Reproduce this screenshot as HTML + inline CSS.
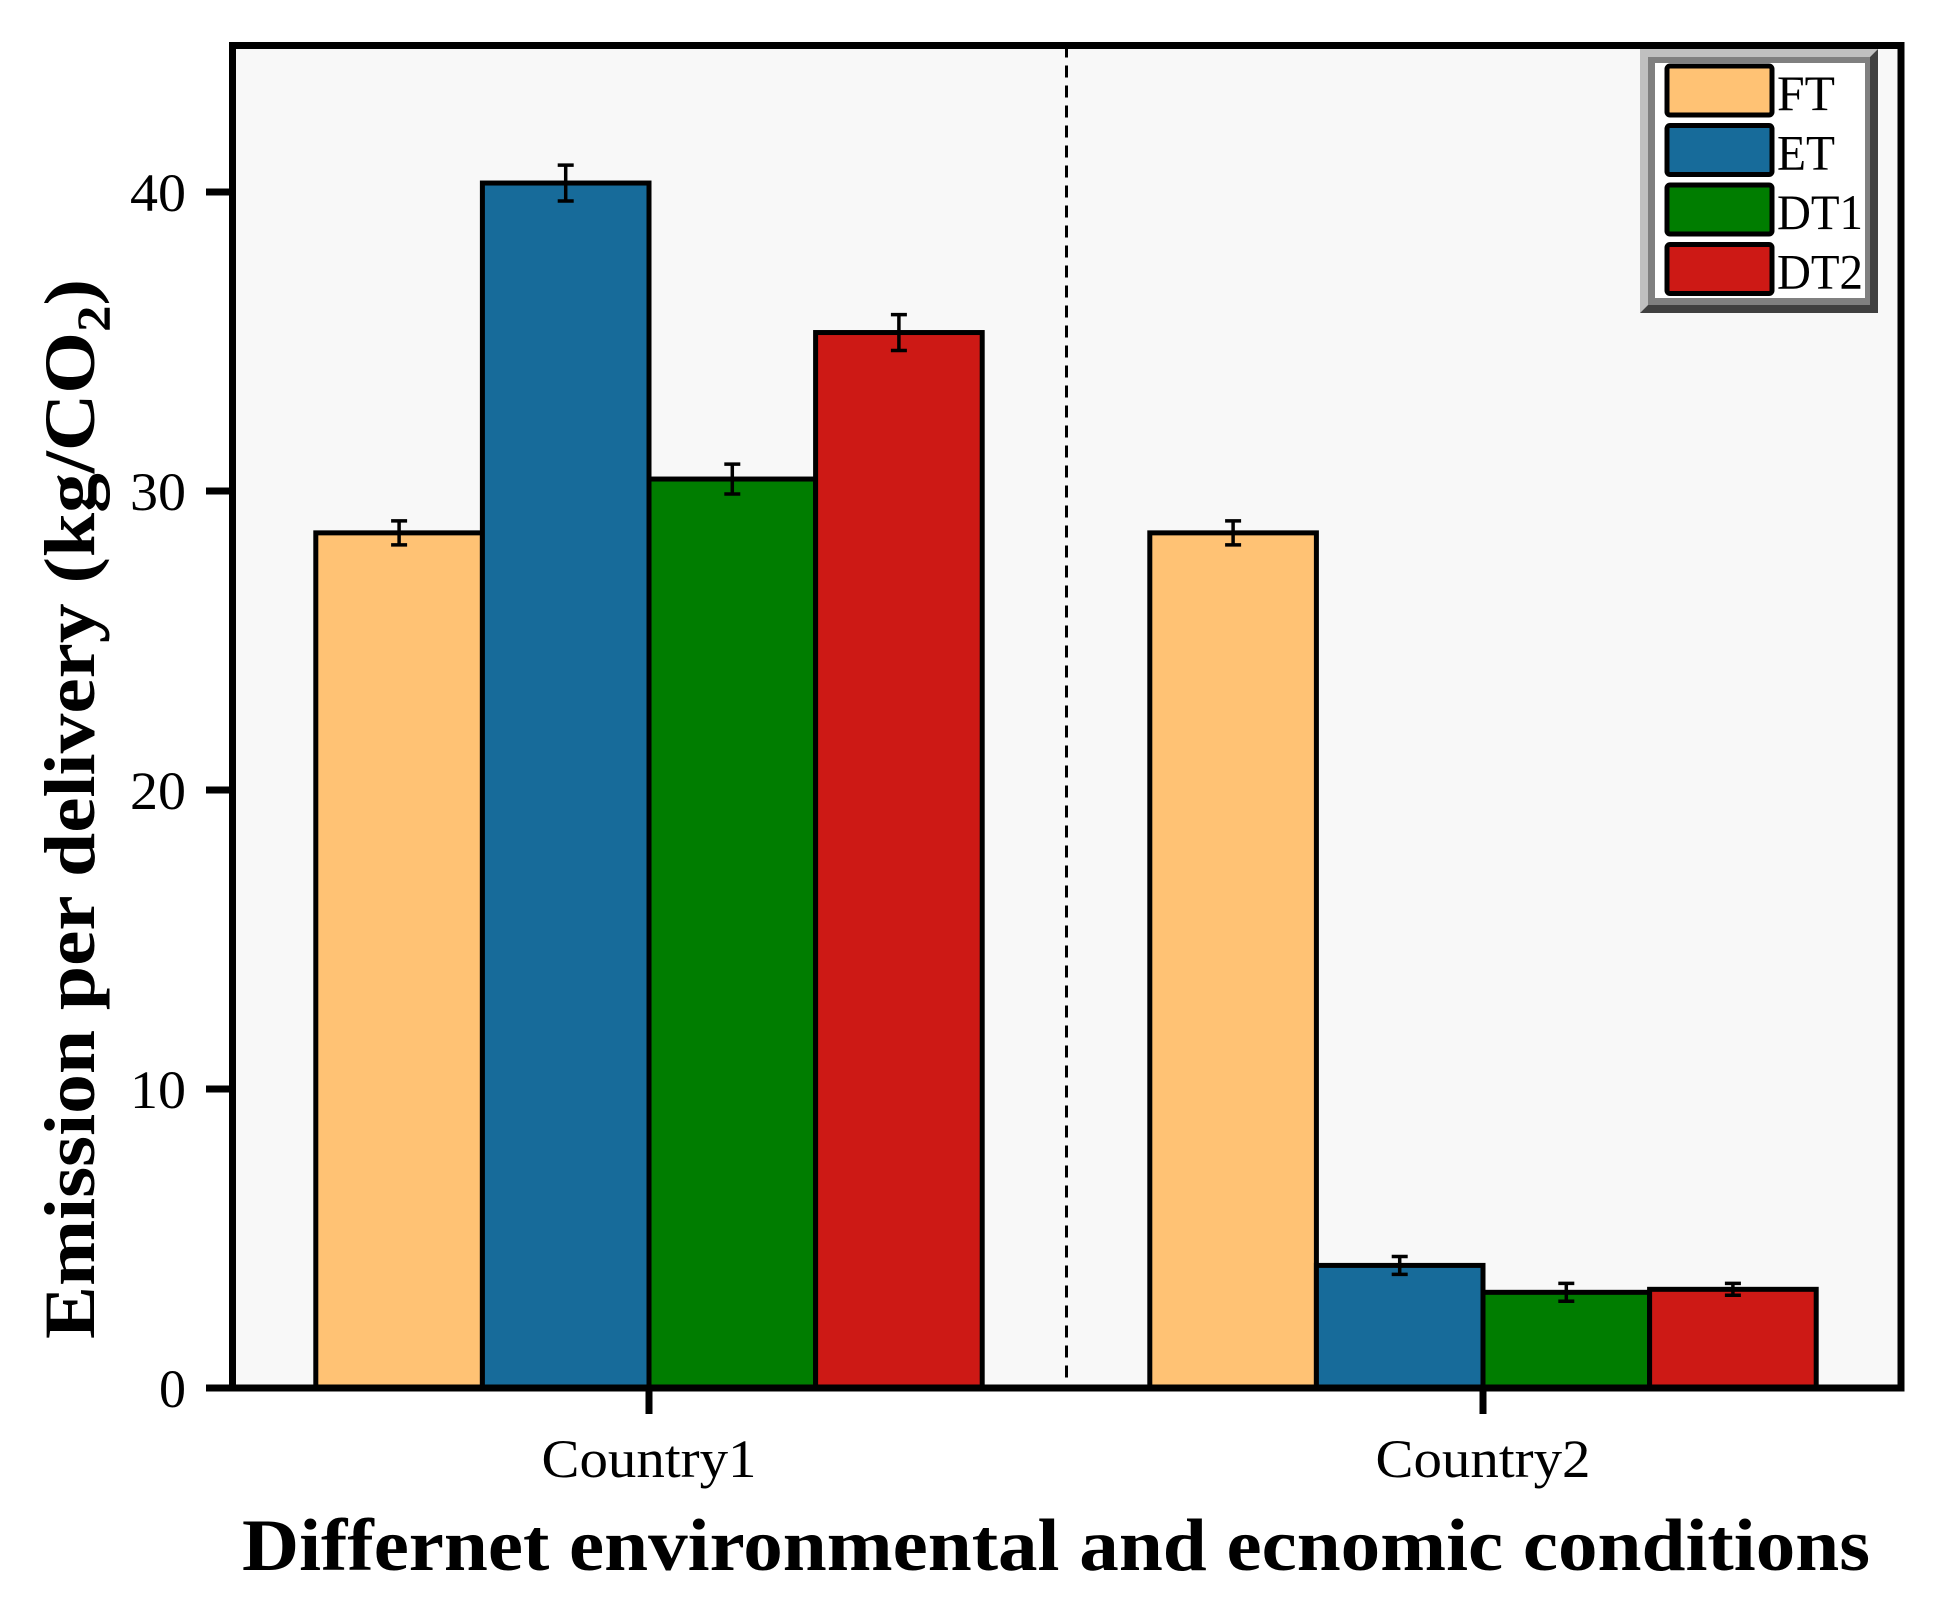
<!DOCTYPE html>
<html><head><meta charset="utf-8"><style>html,body{margin:0;padding:0;background:#fff}svg{display:block}</style></head>
<body>
<svg id="chart" width="1950" height="1615" viewBox="0 0 1950 1615" xmlns="http://www.w3.org/2000/svg" font-family="Liberation Serif, serif">
<rect x="232.5" y="45.5" width="1668.5" height="1342.5" fill="#f8f8f8"/>
<g id="bars"></g>
<line x1="1066.5" y1="45.5" x2="1066.5" y2="1388" stroke="#000" stroke-width="3" stroke-dasharray="12,8"/>
<rect x="232.5" y="45.5" width="1668.5" height="1342.5" fill="none" stroke="#000" stroke-width="7"/>
<g id="axes"></g>
<text x="1056" y="1570" font-size="74" font-weight="bold" text-anchor="middle" textLength="1628" lengthAdjust="spacingAndGlyphs">Differnet environmental and ecnomic conditions</text>
<text transform="translate(94,809) rotate(-90)" font-size="72" font-weight="bold" text-anchor="middle" textLength="1060" lengthAdjust="spacingAndGlyphs">Emission per delivery (kg/CO<tspan font-size="48" dy="16">2</tspan><tspan dy="-16">)</tspan></text>
<g>
<polygon points="1640,49 1878,49 1870,57 1648,57 1648,305 1640,313" fill="#c0c0c0"/>
<polygon points="1878,49 1878,313 1640,313 1648,305 1870,305 1870,57" fill="#404040"/>
<rect x="1648" y="57" width="222" height="248" fill="#808080"/>
<rect x="1655" y="63" width="210" height="235" fill="#fff"/>
<g id="legend-items"></g>
</g>
</svg>
<script>
const categories = ["Country1", "Country2"];
const seriesNames = ["FT", "ET", "DT1", "DT2"];
const seriesColors = ["#ffc274", "#176b9a", "#007d00", "#cd1915"];
const ftValues = [28.6, 28.6];
const etValues = [40.3, 4.1];
const dt1Values = [30.4, 3.2];
const dt2Values = [35.3, 3.3];
const ftErr = [0.4, 0.4];
const etErr = [0.6, 0.3];
const dt1Err = [0.5, 0.3];
const dt2Err = [0.6, 0.2];
const yTicks = [0, 10, 20, 30, 40];

const NS = "http://www.w3.org/2000/svg";
const yScale = v => 1388 - 29.9 * v;
const groupCenter = i => 649 + i * 834;
const barW = 166.6;
function mk(tag, attrs, parent) { const e = document.createElementNS(NS, tag); for (const k in attrs) e.setAttribute(k, attrs[k]); parent.appendChild(e); return e; }

const values = [ftValues, etValues, dt1Values, dt2Values];
const errs = [ftErr, etErr, dt1Err, dt2Err];
const bars = document.getElementById("bars");
values.forEach((ser, s) => {
  ser.forEach((v, i) => {
    const x = groupCenter(i) + (s - 2) * barW;
    const r = mk("rect", {x: x, y: yScale(v), width: barW, height: yScale(0) - yScale(v), fill: seriesColors[s], stroke: "#000", "stroke-width": 5}, bars);
    
    
    const cx = x + barW / 2, e = errs[s][i];
    const g = mk("g", {stroke: "#000", "stroke-width": 3.5}, bars);
    
    
    mk("line", {x1: cx, x2: cx, y1: yScale(v + e), y2: yScale(v - e)}, g);
    mk("line", {x1: cx - 8, x2: cx + 8, y1: yScale(v + e), y2: yScale(v + e)}, g);
    mk("line", {x1: cx - 8, x2: cx + 8, y1: yScale(v - e), y2: yScale(v - e)}, g);
  });
});

const axes = document.getElementById("axes");
yTicks.forEach(t => {
  const l = mk("line", {x1: 206, x2: 232, y1: yScale(t), y2: yScale(t), stroke: "#000", "stroke-width": 7}, axes);
  
  
  const attrs = {x: 186, y: yScale(t) + 19, "font-size": 54, "text-anchor": "end"};
  if (String(t).length > 1) { attrs.textLength = 56; attrs.lengthAdjust = "spacingAndGlyphs"; }
  const tx = mk("text", attrs, axes);
  tx.textContent = t;
  
  
});
categories.forEach((c, i) => {
  const l = mk("line", {x1: groupCenter(i), x2: groupCenter(i), y1: 1388, y2: 1414, stroke: "#000", "stroke-width": 7}, axes);
  
  
  const tx = mk("text", {x: groupCenter(i), y: 1477, "font-size": 54, "text-anchor": "middle", textLength: 215, lengthAdjust: "spacingAndGlyphs"}, axes);
  tx.textContent = c;
  
  
});

const li = document.getElementById("legend-items");
seriesNames.forEach((n, s) => {
  const y = 66 + s * 59.5;
  const r = mk("rect", {x: 1667, y: y, width: 105, height: 49, rx: 3, fill: seriesColors[s], stroke: "#000", "stroke-width": 5}, li);
  
  
  const t = mk("text", {x: 1777, y: y + 44, "font-size": 50, textLength: n.length > 2 ? 86 : 58, lengthAdjust: "spacingAndGlyphs"}, li);
  t.textContent = n;
  
  
});
</script>
</body></html>
